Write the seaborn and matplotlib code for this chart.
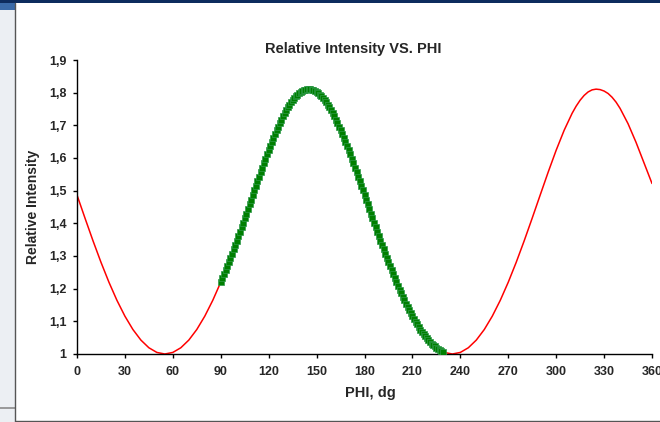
import numpy as np
import pandas as pd
import matplotlib
matplotlib.use("Agg")
import matplotlib.pyplot as plt
from matplotlib.patches import Rectangle
from matplotlib.lines import Line2D
from matplotlib.ticker import FuncFormatter
import seaborn as sns

# Full curve, every 5 degrees (2.5 around the last peak)
red_phi = (list(range(0, 310, 5))
           + [310, 312.5, 315, 317.5, 320, 322.5, 325, 327.5, 330, 332.5,
              335, 337.5, 340, 345, 350, 355, 360])
red_intensity = [
    1.4867, 1.4160, 1.3468, 1.2809, 1.2197, 1.1643, 1.1158, 1.0750, 1.0426, 1.0191,
    1.0048, 1.0000, 1.0048, 1.0191, 1.0426, 1.0750, 1.1158, 1.1643, 1.2197, 1.2809,
    1.3468, 1.4160, 1.4867, 1.5568, 1.6238, 1.6849, 1.7370, 1.7769, 1.8022, 1.8108,
    1.8022, 1.7769, 1.7370, 1.6849, 1.6238, 1.5568, 1.4867, 1.4160, 1.3468, 1.2809,
    1.2197, 1.1643, 1.1158, 1.0750, 1.0426, 1.0191, 1.0048, 1.0000, 1.0048, 1.0191,
    1.0426, 1.0750, 1.1158, 1.1643, 1.2197, 1.2809, 1.3468, 1.4160, 1.4867, 1.5568,
    1.6238, 1.6849,
    1.7370, 1.7586, 1.7769, 1.7915, 1.8022, 1.8086, 1.8108, 1.8094, 1.8050, 1.7975,
    1.7860, 1.7710, 1.7520, 1.7050, 1.6480, 1.5850, 1.5220,
]

# Measured points, one per degree from 90 to 229
green_phi = list(range(90, 230))
green_intensity = [
    1.2197, 1.2315, 1.2435, 1.2558, 1.2682, 1.2809, 1.2938, 1.3068, 1.3200, 1.3333,
    1.3468, 1.3605, 1.3742, 1.3880, 1.4020, 1.4160, 1.4301, 1.4442, 1.4583, 1.4725,
    1.4867, 1.5008, 1.5149, 1.5289, 1.5429, 1.5568, 1.5705, 1.5841, 1.5975, 1.6108,
    1.6238, 1.6366, 1.6491, 1.6613, 1.6733, 1.6849, 1.6961, 1.7070, 1.7174, 1.7274,
    1.7370, 1.7460, 1.7546, 1.7626, 1.7701, 1.7769, 1.7832, 1.7889, 1.7940, 1.7984,
    1.8022, 1.8053, 1.8077, 1.8094, 1.8104, 1.8108, 1.8104, 1.8094, 1.8077, 1.8053,
    1.8022, 1.7984, 1.7940, 1.7889, 1.7832, 1.7769, 1.7701, 1.7626, 1.7546, 1.7460,
    1.7370, 1.7274, 1.7174, 1.7070, 1.6961, 1.6849, 1.6733, 1.6613, 1.6491, 1.6366,
    1.6238, 1.6108, 1.5975, 1.5841, 1.5705, 1.5568, 1.5429, 1.5289, 1.5149, 1.5008,
    1.4867, 1.4725, 1.4583, 1.4442, 1.4301, 1.4160, 1.4020, 1.3880, 1.3742, 1.3605,
    1.3468, 1.3333, 1.3200, 1.3068, 1.2938, 1.2809, 1.2682, 1.2558, 1.2435, 1.2315,
    1.2197, 1.2081, 1.1968, 1.1857, 1.1749, 1.1643, 1.1540, 1.1440, 1.1343, 1.1249,
    1.1158, 1.1070, 1.0985, 1.0904, 1.0825, 1.0750, 1.0679, 1.0610, 1.0545, 1.0484,
    1.0426, 1.0372, 1.0321, 1.0274, 1.0230, 1.0191, 1.0155, 1.0122, 1.0094, 1.0069,
]

x_ticks = [0, 30, 60, 90, 120, 150, 180, 210, 240, 270, 300, 330, 360]
y_ticks = [1.0, 1.1, 1.2, 1.3, 1.4, 1.5, 1.6, 1.7, 1.8, 1.9]

title_text = "Relative Intensity VS. PHI"
x_label = "PHI, dg"
y_label = "Relative Intensity"

sns.set_style("ticks")
plt.rcParams["font.family"] = ["Liberation Sans", "DejaVu Sans"]
plt.rcParams["font.weight"] = "bold"

W, H = 660, 422
fig = plt.figure(figsize=(W / 100, H / 100), dpi=100)
fig.patch.set_facecolor("white")

# slide backdrop: pale left strip, navy top band, chart frame
fig.add_artist(Rectangle((0, 0), 15 / W, 1, transform=fig.transFigure,
                         facecolor="#eceff3", edgecolor="none", zorder=0))
fig.add_artist(Rectangle((0, 1 - 10 / H), 15 / W, 10 / H, transform=fig.transFigure,
                         facecolor="#3a6aa8", edgecolor="none", zorder=0))
fig.add_artist(Rectangle((0, 1 - 3 / H), 1, 3 / H, transform=fig.transFigure,
                         facecolor="#0d2c5e", edgecolor="none", zorder=0))
fig.add_artist(Line2D([0, 15 / W], [1 - 407.5 / H] * 2, transform=fig.transFigure,
                      color="#8a8a8a", lw=1.2, zorder=1))
fig.add_artist(Line2D([15.5 / W] * 2, [1 - 3 / H, 1 - 420.5 / H], transform=fig.transFigure,
                      color="#555555", lw=1.0, zorder=1))
fig.add_artist(Line2D([15.5 / W, 1], [1 - 420.5 / H] * 2, transform=fig.transFigure,
                      color="#555555", lw=1.0, zorder=1))

ax = fig.add_axes([77 / W, 1 - 354 / H, (652 - 77) / W, (354 - 60) / H])
ax.set_facecolor("none")

red_df = pd.DataFrame({"phi": red_phi, "intensity": red_intensity})
green_df = pd.DataFrame({"phi": green_phi, "intensity": green_intensity})

sns.lineplot(data=red_df, x="phi", y="intensity", ax=ax, color="#ff0000",
             linewidth=1.1, zorder=2, legend=False)
sns.scatterplot(data=green_df, x="phi", y="intensity", ax=ax, marker="s",
                s=18, color="#007f00", edgecolor="#2e9a4a", linewidth=0.5,
                zorder=3, legend=False)

ax.set_xlim(0, 360)
ax.set_ylim(1.0, 1.9)
ax.set_xticks(x_ticks)
ax.set_yticks(y_ticks)
ax.yaxis.set_major_formatter(FuncFormatter(
    lambda v, p: "1" if abs(v - 1) < 1e-9 else f"{v:.1f}".replace(".", ",")))
ax.tick_params(axis="both", direction="out", length=3, width=1, color="black",
               labelsize=9, pad=4.5)
ax.tick_params(axis="x", pad=5.5)
for lab in ax.get_xticklabels() + ax.get_yticklabels():
    lab.set_fontweight("bold")
for side in ("top", "right"):
    ax.spines[side].set_visible(False)
for side in ("left", "bottom"):
    ax.spines[side].set_color("black")
    ax.spines[side].set_linewidth(1.0)

ax.set_xlabel("")
ax.set_ylabel("")
fig.text(370 / W, 1 - 393 / H, x_label, ha="center", va="center",
         fontsize=10.5, fontweight="bold")
fig.text(33 / W, 1 - 207 / H, y_label, ha="center", va="center",
         rotation=90, fontsize=10, fontweight="bold")
fig.text(353 / W, 1 - 48.5 / H, title_text, ha="center", va="center",
         fontsize=10.5, fontweight="bold")

fig.savefig("out.png", dpi=100)
